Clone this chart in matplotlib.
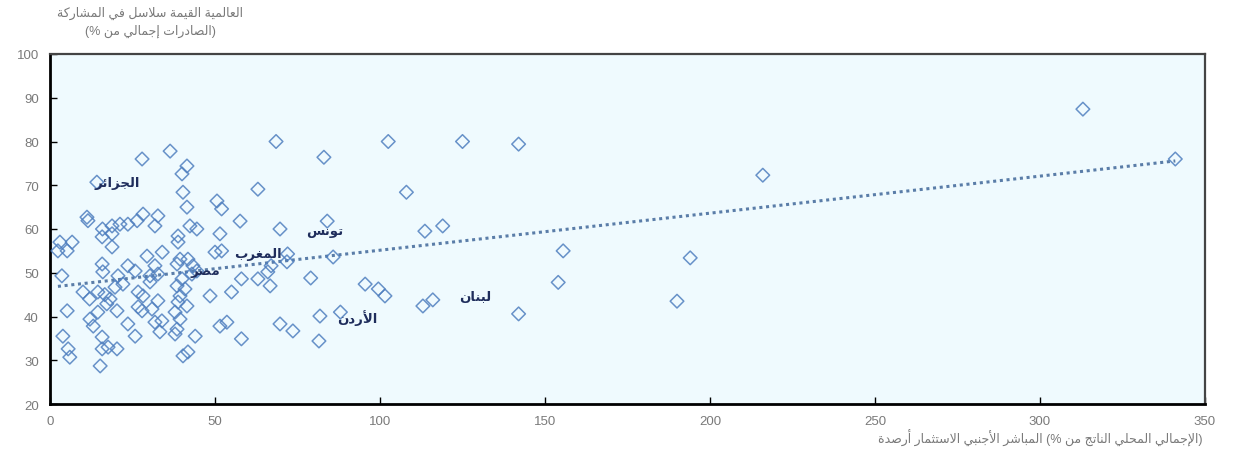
import re

import matplotlib

matplotlib.use("Agg")
import matplotlib.pyplot as plt
import numpy as np

plt.rcParams["font.family"] = ["Liberation Sans", "DejaVu Sans"]

# FDI stock (% of GDP) vs GVC participation (% of exports)
fdi = [341, 313, 216, 194, 190, 155.5, 154, 142, 142, 125, 102.5, 68.5, 83, 108, 119, 113.6, 116, 113, 95.5, 99.5,
       101.5, 84, 85.8, 79, 81.8, 88, 81.5,
       36.4, 27.9, 14.2, 63, 41.5, 40, 40.3, 41.5, 50.6, 52, 57.6, 51.5, 42.4, 44.5, 38.8, 38.8, 32.7, 31.8, 11.2,
       11.5, 15.9, 18.8, 21.2, 23.6, 26.4, 28.2, 18.8, 15.8, 18.8, 3, 6.7, 5.2, 2.4, 3.6, 15.8, 23.6, 29.4, 34, 31.8,
       30.3, 30.3, 32.7, 38.5, 39.4, 41.8, 43.3, 43, 44.5, 40, 38.5, 40.9, 39.4, 38.8, 41.5, 37.9, 39.4, 38.5, 37.9,
       44, 41.8, 40.3, 48.5, 55, 52, 50, 51.5, 53.6, 58, 58, 63, 66, 66.7, 67, 69.7, 72, 71.8, 69.7, 73.6,
       5.2, 3.9, 5.5, 6, 10, 12, 14.5, 16.6, 18.2, 17.2, 20.3, 12.1, 14.5, 13.1, 15.8, 15.8, 15.2, 17.6, 20.3, 23.6,
       25.8, 26.7, 27.9, 28.2, 26.7, 30.9, 32.7, 31.8, 33.9, 33.3, 25.8, 20.6, 22.1, 19.7, 16]
gvc = [76, 87.4, 72.3, 53.4, 43.5, 55, 47.8, 40.6, 79.4, 80, 80, 80, 76.4, 68.4, 60.7, 59.5, 43.8, 42.4, 47.4, 46.3,
       44.7, 61.8, 53.6, 48.8, 40.1, 41, 34.4,
       77.8, 76, 70.7, 69.1, 74.4, 72.6, 68.4, 65, 66.4, 64.6, 61.8, 58.9, 60.7, 60, 58.4, 57, 63, 60.7, 62.7,
       61.9, 60, 60.7, 61.1, 61.1, 61.9, 63.4, 58.9, 58.2, 55.9, 57, 57, 55, 55, 49.3, 52, 51.6, 53.8, 54.7, 51.6,
       49.3, 47.9, 49.7, 52, 53.1, 53.1, 51.6, 49.7, 50.4, 48.6, 47, 46.3, 44.7, 43.3, 42.4, 41, 39.4, 37.1, 36,
       35.5, 31.9, 31, 44.7, 45.6, 55, 54.7, 37.8, 38.7, 34.9, 48.6, 48.6, 50.2, 47, 51.6, 60, 54.3, 52.5, 38.3, 36.7,
       41.3, 35.5, 32.6, 30.7, 45.6, 44, 45.6, 45, 44, 42.9, 41.3, 39.4, 41, 37.8, 35.3, 32.6, 28.7, 33, 32.6, 38.3,
       35.5, 42.2, 41.3, 44.7, 45.6, 41.7, 43.6, 38.7, 39, 36.5, 50.4, 49.3, 47.4, 46.7, 50.2]

countries = ["الجزائر", "تونس", "المغرب", "مصر", "الأردن", "لبنان"]
country_x = [20.3, 83.3, 63, 47, 93, 128.8]
country_y = [70.7, 59.5, 54.5, 50.4, 39.9, 44.5]

y_title = ["المشاركة في سلاسل القيمة العالمية", "(% من إجمالي الصادرات)"]
x_title = "أرصدة الاستثمار الأجنبي المباشر (% من الناتج المحلي الإجمالي)"

# matplotlib does no arabic shaping, so map letters to presentation forms by hand
# (isolated code, number of forms)
FORMS = {"ء": (0xFE80, 1), "آ": (0xFE81, 2), "أ": (0xFE83, 2), "ؤ": (0xFE85, 2), "إ": (0xFE87, 2),
         "ئ": (0xFE89, 4), "ا": (0xFE8D, 2), "ب": (0xFE8F, 4), "ة": (0xFE93, 2), "ت": (0xFE95, 4),
         "ث": (0xFE99, 4), "ج": (0xFE9D, 4), "ح": (0xFEA1, 4), "خ": (0xFEA5, 4), "د": (0xFEA9, 2),
         "ذ": (0xFEAB, 2), "ر": (0xFEAD, 2), "ز": (0xFEAF, 2), "س": (0xFEB1, 4), "ش": (0xFEB5, 4),
         "ص": (0xFEB9, 4), "ض": (0xFEBD, 4), "ط": (0xFEC1, 4), "ظ": (0xFEC5, 4), "ع": (0xFEC9, 4),
         "غ": (0xFECD, 4), "ف": (0xFED1, 4), "ق": (0xFED5, 4), "ك": (0xFED9, 4), "ل": (0xFEDD, 4),
         "م": (0xFEE1, 4), "ن": (0xFEE5, 4), "ه": (0xFEE9, 4), "و": (0xFEED, 2), "ى": (0xFEEF, 2),
         "ي": (0xFEF1, 4)}
LAM_ALEF = {"آ": 0xFEF5, "أ": 0xFEF7, "إ": 0xFEF9, "ا": 0xFEFB}


def shape_word(w):
    out = []
    i = 0
    while i < len(w):
        c = w[i]
        prev = w[i - 1] if i > 0 else ""
        joins_prev = prev in FORMS and FORMS[prev][1] == 4
        if c == "ل" and i + 1 < len(w) and w[i + 1] in LAM_ALEF:
            out.append(chr(LAM_ALEF[w[i + 1]] + int(joins_prev)))
            i += 2
            continue
        base, n = FORMS[c]
        nxt = w[i + 1] if i + 1 < len(w) else ""
        joins_next = n == 4 and nxt in FORMS and FORMS[nxt][1] > 1
        form = [[0, 2], [1, 3]][joins_prev][joins_next] if n > 1 else 0
        out.append(chr(base + form))
        i += 1
    return "".join(reversed(out))


def ar(text):
    return re.sub(r"[\u0621-\u064A]+", lambda m: shape_word(m.group()), text)


fig = plt.figure(figsize=(12.35, 4.77), dpi=100)
ax = fig.add_axes([50 / 1235, 1 - 405 / 477, 1155 / 1235, 350 / 477])
ax.set_facecolor("#EFFAFE")

ax.scatter(fdi, gvc, marker="D", s=48, facecolors="none", edgecolors="#4F7FBF", linewidths=1.1, alpha=0.85,
           zorder=3)

k, b = np.polyfit(fdi, gvc, 1)
xs = np.array([min(fdi), max(fdi)])
ax.plot(xs, k * xs + b, linestyle=(0, (1, 1.2)), color="#5A7DA8", lw=2.2, zorder=2)

for name, x, y in zip(countries, country_x, country_y):
    ax.text(x, y, ar(name), ha="center", va="center", fontsize=9.5, fontweight="bold", color="#1F2D5C",
            zorder=4)

ax.set_xlim(0, 350)
ax.set_ylim(20, 100)
ax.set_xticks(range(0, 351, 50))
ax.set_yticks(range(20, 101, 10))
ax.tick_params(direction="in", length=5, width=1, colors="black", labelcolor="#7A7A7A", labelsize=9.5, pad=8)
for side in ["left", "bottom"]:
    ax.spines[side].set_linewidth(2)
    ax.spines[side].set_color("black")
for side in ["top", "right"]:
    ax.spines[side].set_linewidth(1.6)
    ax.spines[side].set_color("#444444")

fig.text(150 / 1235, 1 - 13 / 477, ar(y_title[0]), ha="center", va="center", fontsize=9, color="#7A7A7A")
fig.text(150 / 1235, 1 - 31 / 477, ar(y_title[1]), ha="center", va="center", fontsize=9, color="#7A7A7A")
fig.text(1203 / 1235, 1 - 438 / 477, ar(x_title), ha="right", va="center", fontsize=9, color="#7A7A7A")

fig.savefig("out.png", dpi=100)
plt.close(fig)
